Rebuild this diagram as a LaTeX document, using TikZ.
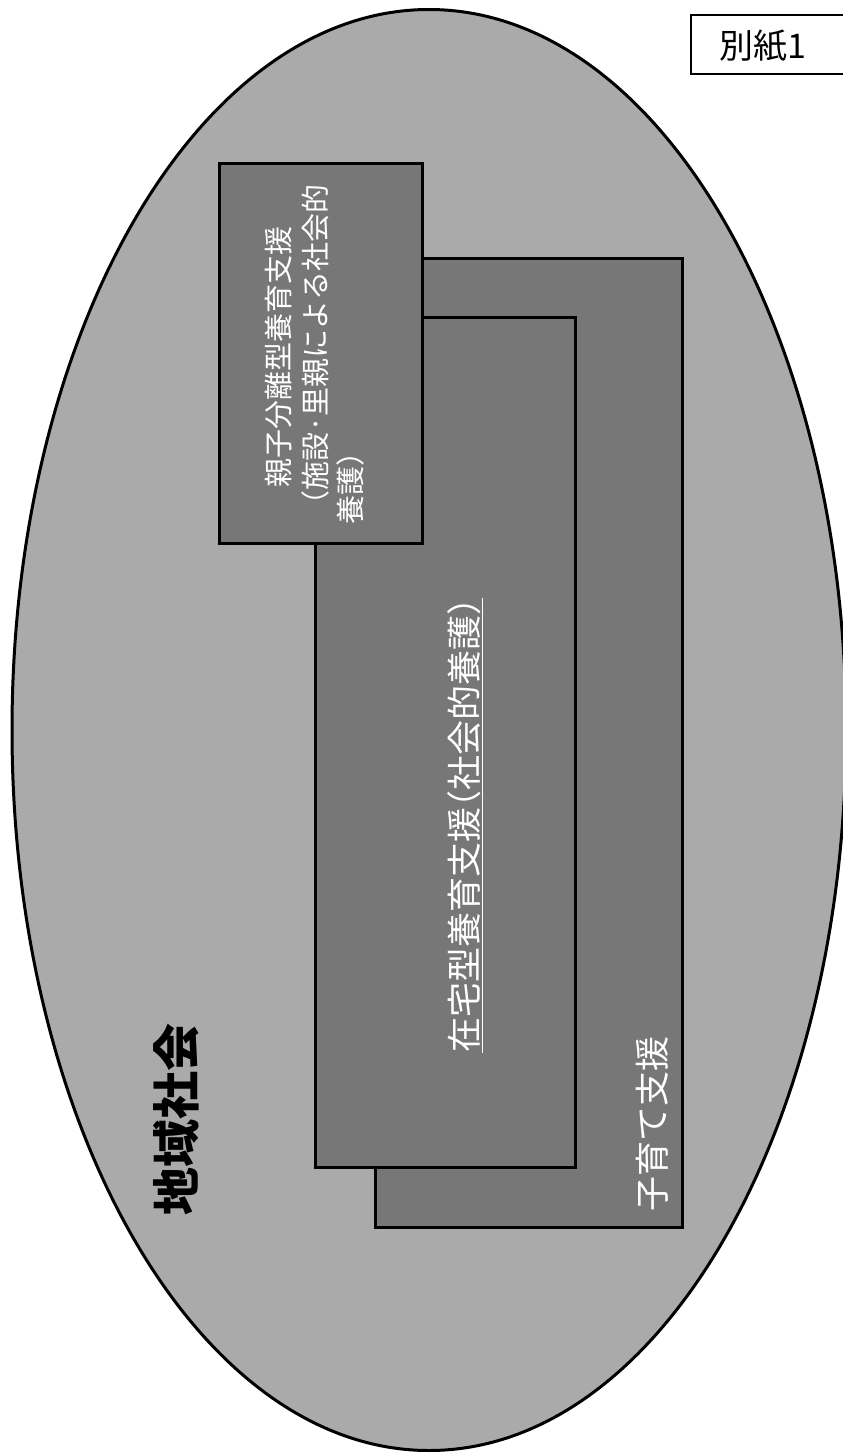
\documentclass[tikz,border=0pt]{standalone}
\usepackage{fontspec}
\usetikzlibrary{shapes.geometric}
\newfontfamily\jp{Noto Sans CJK JP}
\newfontfamily\jphalt[RawFeature=+halt]{Noto Sans CJK JP}
\newcommand{\hp}[1]{{\jphalt #1}}
\definecolor{ground}{RGB}{170,170,170}
\definecolor{boxgray}{RGB}{119,119,119}
\begin{document}
\begin{tikzpicture}[x=1pt,y=-1pt,
  panel/.style={draw=black,line width=3pt,fill=boxgray},
  rtext/.style={rotate=90,anchor=west,inner sep=0pt,font=\jp,text=white}]
\useasboundingbox (0,0) rectangle (843,1452);
\fill[white] (0,0) rectangle (843,1452);
% community ellipse
\node[draw=black,line width=3pt,fill=ground,ellipse,minimum width=834pt,minimum height=1441pt,inner sep=0pt] (region) at (429,730) {};
% boxes
\node[panel,minimum width=307pt,minimum height=969pt,inner sep=0pt] (outer) at (528.5,742.5) {};
\node[panel,minimum width=260pt,minimum height=850pt,inner sep=0pt] (home) at (445,742.5) {};
\node[panel,minimum width=203pt,minimum height=380pt,inner sep=0pt] (sep) at (320.5,353) {};
% texts
\node[rotate=90,anchor=west,inner sep=0pt,font=\jp\bfseries\fontsize{48}{56}\selectfont] (lbl) at (176,1216) {地域社会};
\node[rtext,font=\jp\fontsize{35}{42}\selectfont] (homelbl) at (465,1053) {\underline{在宅型養育支援\hp{（}社会的養護\hp{）}}};
\node[rtext,font=\jp\fontsize{35}{42}\selectfont] (kosodate) at (652,1212) {子育て支援};
\node[rtext,font=\jp\fontsize{29}{35}\selectfont] (s1) at (279,488) {親子分離型養育支援};
\node[rtext,font=\jp\fontsize{29}{35}\selectfont] (s2) at (315,505) {\hp{（}施設·里親による社会的};
\node[rtext,font=\jp\fontsize{29}{35}\selectfont] (s3) at (350,525) {養護\hp{）}};
% attachment label
\node[draw=black,line width=1.5pt,fill=white,minimum width=160pt,minimum height=59pt,inner sep=0pt] (tag) at (771,44.5) {};
\node[font=\jp\fontsize{34}{40}\selectfont,anchor=west,inner sep=0pt] (taglbl) at (719,46) {別紙1};
\end{tikzpicture}
\end{document}
